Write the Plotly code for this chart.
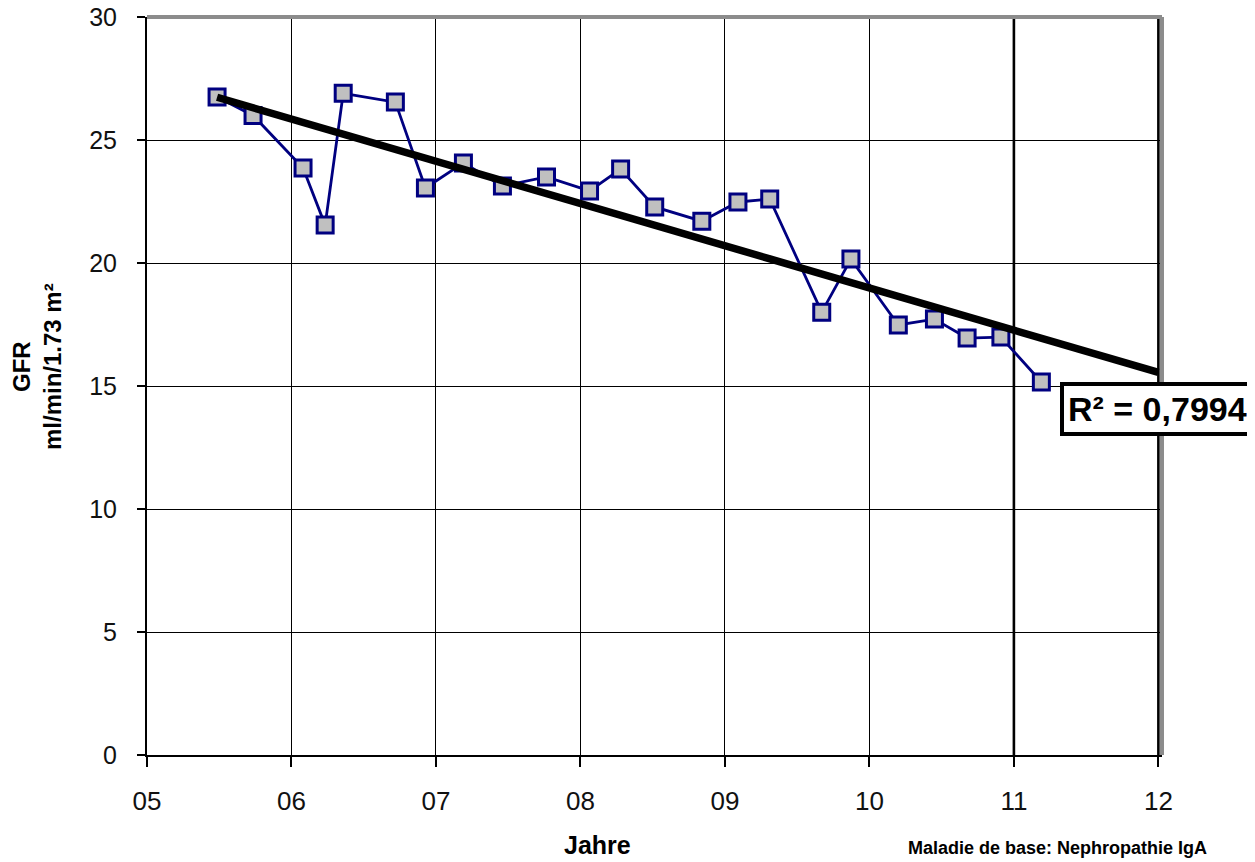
import numpy as np
import plotly.graph_objects as go

# data (years since 2000, GFR)
years = [5.485, 5.734, 6.08, 6.233, 6.358, 6.719, 6.927, 7.19, 7.46, 7.765, 8.063, 8.278,
         8.514, 8.84, 9.09, 9.31, 9.67, 9.872, 10.2, 10.45, 10.676, 10.91, 11.19]
gfr = [26.75, 26.0, 23.86, 21.54, 26.9, 26.54, 23.05, 24.07, 23.13, 23.5, 22.93, 23.82,
       22.28, 21.7, 22.48, 22.6, 18.0, 20.16, 17.48, 17.72, 16.95, 16.99, 15.16]
x_ticks = [5, 6, 7, 8, 9, 10, 11, 12]
x_labels = ["05", "06", "07", "08", "09", "10", "11", "12"]
y_ticks = [0, 5, 10, 15, 20, 25, 30]
r2_text = "R² = 0,7994"
trend_end = 12.0

slope, intercept = np.polyfit(years, gfr, 1)
tx = [years[0], trend_end]
ty = [slope * v + intercept for v in tx]

FONT = "Liberation Sans, Arial"

fig = go.Figure()
fig.add_trace(go.Scatter(
    x=years, y=gfr, mode="lines+markers",
    line=dict(color="#000080", width=2.8),
    marker=dict(symbol="square", size=16, color="#c0c0c0",
                line=dict(color="#000080", width=3)),
    showlegend=False, hoverinfo="skip"))
fig.add_trace(go.Scatter(
    x=tx, y=ty, mode="lines", line=dict(color="black", width=7.5),
    showlegend=False, hoverinfo="skip"))

fig.update_layout(
    width=1247, height=854,
    margin=dict(l=139, r=93, t=9, b=107),
    paper_bgcolor="white", plot_bgcolor="white",
    font=dict(family=FONT, color="black"),
    xaxis=dict(range=[5, 12.025], tickvals=x_ticks, ticktext=x_labels,
               showgrid=True, gridcolor="black", gridwidth=1.3,
               showline=True, linecolor="black", linewidth=2,
               ticks="outside", ticklen=10, tickcolor="black", tickwidth=2,
               ticklabelstandoff=12, ticklabeloverflow="allow",
               tickfont=dict(family=FONT, size=26, color="#111"),
               automargin=False, zeroline=False),
    yaxis=dict(range=[0, 30], tickvals=y_ticks,
               showgrid=True, gridcolor="black", gridwidth=1.3,
               showline=True, linecolor="black", linewidth=2,
               ticks="outside", ticklen=8, tickcolor="black", tickwidth=2,
               ticklabelstandoff=15, ticklabeloverflow="allow",
               tickfont=dict(family=FONT, size=25, color="#111"),
               automargin=False, zeroline=False),
)

# heavier gridlines at the last two year marks
for xv in x_ticks[-2:]:
    fig.add_shape(type="line", xref="x", yref="paper", x0=xv, x1=xv, y0=0, y1=1,
                  line=dict(color="black", width=2.6), layer="below")

# gray frame at top and right
fig.add_shape(type="line", xref="paper", yref="paper", x0=0, x1=1.0, y0=1.0, y1=1.0,
              line=dict(color="#8c8c8c", width=4))
fig.add_shape(type="line", xref="paper", yref="paper", x0=1.0, x1=1.0, y0=0, y1=1.0,
              line=dict(color="#8c8c8c", width=4))

# axis titles
fig.add_annotation(xref="paper", yref="paper", x=-0.1084, y=0.527, xanchor="center", yanchor="middle",
                   text="<b>GFR<br>ml/min/1.73 m²</b>", showarrow=False, textangle=-90,
                   font=dict(family=FONT, size=24, color="black"))
fig.add_annotation(xref="paper", yref="paper", x=0.4443, y=-0.1225, xanchor="center", yanchor="middle",
                   text="<b>Jahre</b>", showarrow=False,
                   font=dict(family=FONT, size=25, color="black"))

fig.add_annotation(xref="paper", yref="paper", x=0.8995, y=0.5054, xanchor="left", yanchor="top",
                   text="<b>" + r2_text + "</b>", showarrow=False,
                   font=dict(family=FONT, size=34, color="black"),
                   bgcolor="white", bordercolor="black", borderwidth=4, borderpad=4)
fig.add_annotation(xref="paper", yref="paper", x=0.8966, y=-0.126, xanchor="center", yanchor="middle",
                   text="<b>Maladie de base: Nephropathie IgA</b>", showarrow=False,
                   font=dict(family=FONT, size=18, color="black"))

fig.write_html("out.html")
